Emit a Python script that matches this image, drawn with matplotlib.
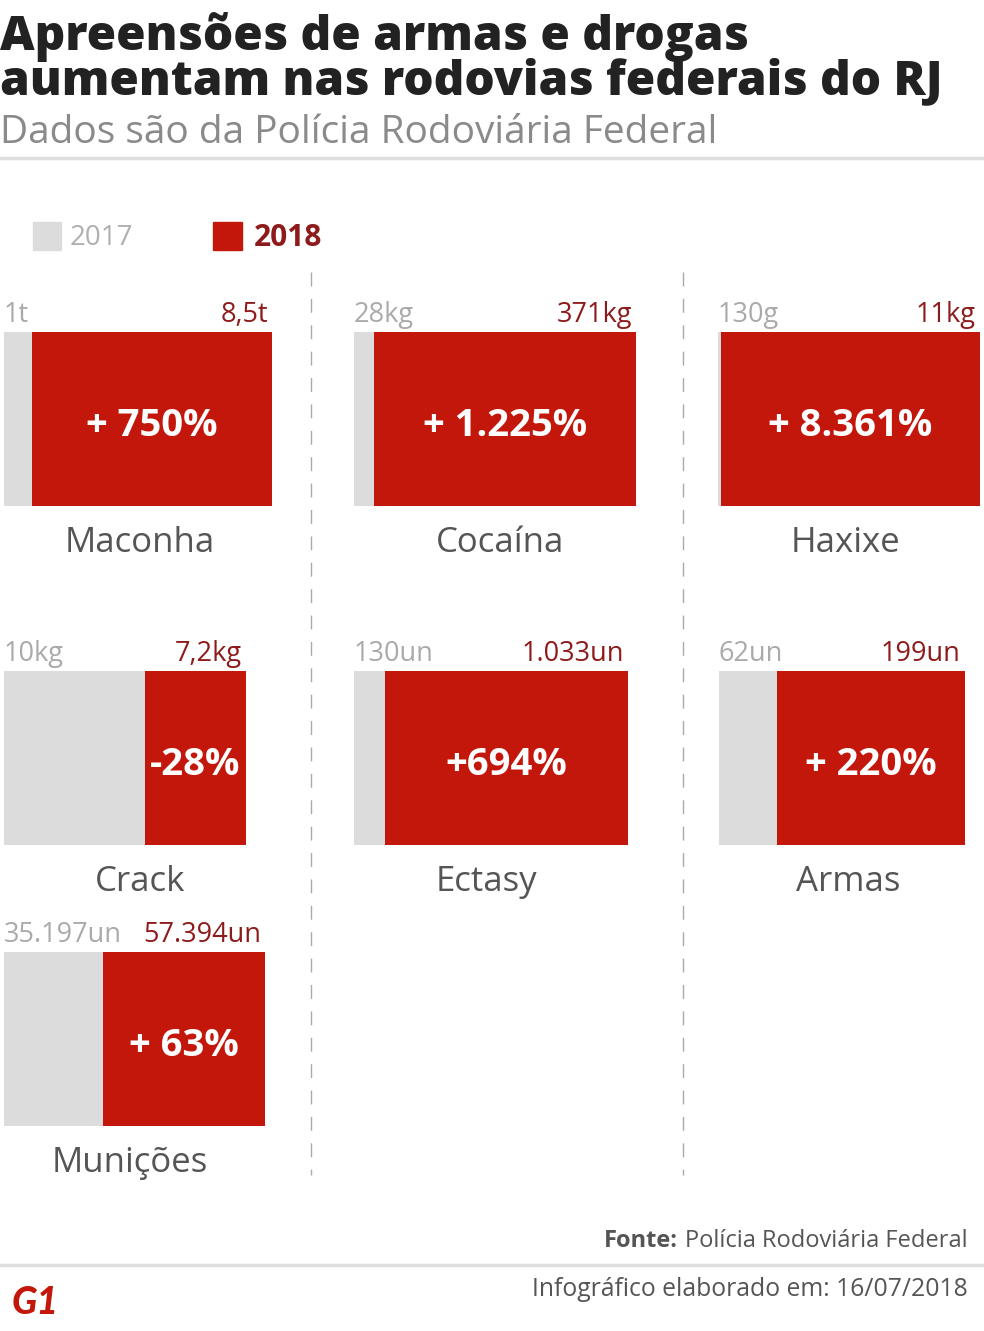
import matplotlib
matplotlib.use("Agg")
import matplotlib.pyplot as plt
from matplotlib.lines import Line2D
from matplotlib.patches import Rectangle
from matplotlib.transforms import offset_copy

W, H = 984, 1331

# data
names = ["Maconha", "Cocaína", "Haxixe", "Crack", "Ectasy", "Armas", "Munições"]
v2017 = [1, 28, 0.13, 10, 130, 62, 35197]
v2018 = [8.5, 371, 11, 7.2, 1033, 199, 57394]
labels2017 = ["1t", "28kg", "130g", "10kg", "130un", "62un", "35.197un"]
labels2018 = ["8,5t", "371kg", "11kg", "7,2kg", "1.033un", "199un", "57.394un"]
pct = ["+ 750%", "+ 1.225%", "+ 8.361%", "-28%", "+694%", "+ 220%", "+ 63%"]

# layout (pixels)
panel_left = [4, 354, 718, 4, 354, 719, 4]
panel_width = [268, 282, 262, 242, 274, 246, 261]
panel_top = [332, 332, 332, 671, 671, 671, 952]
panel_h = 174
name_x = [140, 500, 846, 140, 486, 848, 130]

RED = "#c4170c"
GREY = "#dcdcdc"
DARKRED = "#8e1b1b"

fig = plt.figure(figsize=(W / 100, H / 100), dpi=100)
fig.patch.set_facecolor("white")


def fx(x):
    return x / W


def fy(y):
    return 1 - y / H


# title (one text block, two lines)
fig.text(fx(0), fy(94), "Apreensões de armas e drogas\naumentam nas rodovias federais do RJ",
         fontsize=34.4, fontweight="heavy", family="Open Sans", color="#222222",
         va="baseline", linespacing=0.9)
fig.text(fx(0), fy(143), "Dados são da Polícia Rodoviária Federal", fontsize=28,
         family="Open Sans", color="#8a8a8a", va="baseline")
fig.add_artist(Line2D([0, 1], [fy(158), fy(158)], color="#e0e0e0", lw=2.5))

# legend
fig.add_artist(Rectangle((fx(33), fy(250)), fx(28), 28 / H, color=GREY))
fig.text(fx(70), fy(238), "2017", fontsize=20, family="Open Sans", color="#b0b0b0", va="center")
fig.add_artist(Rectangle((fx(213), fy(250)), fx(29), 28 / H, color=RED))
fig.text(fx(254), fy(238), "2018", fontsize=21.5, family="Open Sans", fontweight="bold",
         color=DARKRED, va="center")

# dashed separators
for x in [311, 683]:
    fig.add_artist(Line2D([fx(x), fx(x)], [fy(272), fy(1175)], color="#aaaaaa", lw=1,
                          linestyle=(0, (10, 9))))

# panels
for i in range(len(names)):
    ax = fig.add_axes([fx(panel_left[i]), fy(panel_top[i] + panel_h), fx(panel_width[i]), panel_h / H])
    ax.barh(0.5, v2017[i], height=1, left=0, color=GREY)
    ax.barh(0.5, v2018[i], height=1, left=v2017[i], color=RED)
    total = v2017[i] + v2018[i]
    ax.set_xlim(0, total)
    ax.set_ylim(0, 1)
    ax.axis("off")
    tr = offset_copy(ax.get_xaxis_transform(), fig=fig, x=0, y=7, units="points")
    tr2 = offset_copy(ax.get_xaxis_transform(), fig=fig, x=-3, y=7, units="points")
    ax.text(0, 1, labels2017[i], transform=tr, ha="left", va="baseline", fontsize=19.5,
            family="Open Sans", color="#aaaaaa")
    ax.text(total, 1, labels2018[i], transform=tr2, ha="right", va="baseline", fontsize=19.5,
            family="Open Sans", color=DARKRED)
    ax.text(v2017[i] + v2018[i] / 2, 0.46, pct[i], ha="center", va="center", fontsize=27.5,
            family="Open Sans", fontweight="bold", color="white")
    fig.text(fx(name_x[i]), fy(panel_top[i] + panel_h + 37), names[i], ha="center", va="center",
             fontsize=25, family="Open Sans", color="#555555")

# footer
fig.text(fx(968), fy(1241), "Polícia Rodoviária Federal", ha="right", va="center", fontsize=17,
         family="Open Sans", color="#555555")
fig.text(fx(678), fy(1241), "Fonte:", ha="right", va="center", fontsize=17,
         family="Open Sans", fontweight="bold", color="#555555")
fig.add_artist(Line2D([0, 1], [fy(1265), fy(1265)], color="#e0e0e0", lw=2.5))
fig.text(fx(968), fy(1290), "Infográfico elaborado em: 16/07/2018", ha="right", va="center",
         fontsize=17.8, family="Open Sans", color="#555555")
fig.text(fx(12), fy(1302), "G1", ha="left", va="center", fontsize=27, fontweight="black",
         family="Lato", style="italic", color=RED)

fig.savefig("out.png", dpi=100)
